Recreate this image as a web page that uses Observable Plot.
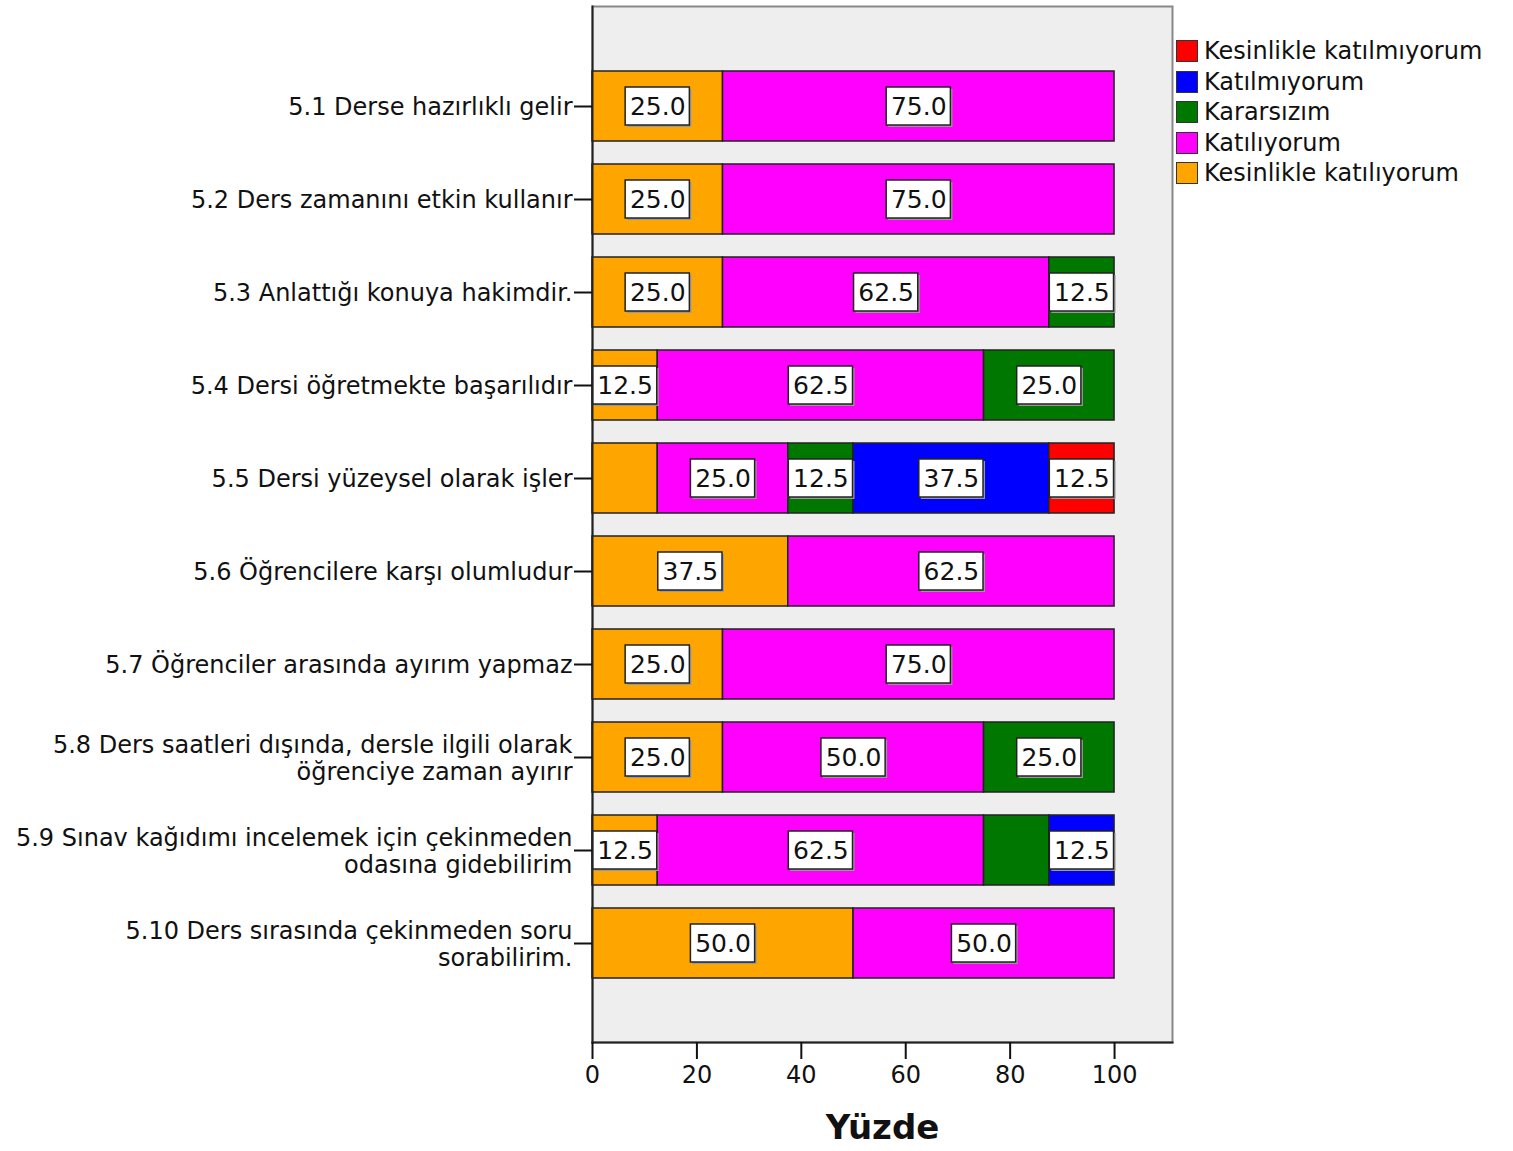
<!DOCTYPE html>
<html><head><meta charset="utf-8">
<script src="https://cdn.jsdelivr.net/npm/d3@7"></script>
<script src="https://cdn.jsdelivr.net/npm/@observablehq/plot@0.6"></script>
<style>
body{margin:0;background:#fff;font-family:"DejaVu Sans",sans-serif;}
#wrap{position:relative;width:1513px;height:1151px;}
#legend{position:absolute;left:1176px;top:36px;font-size:24px;color:#111;}
.item{display:flex;align-items:center;height:30.5px;white-space:nowrap;}
.sw{width:22px;height:22px;border:1.5px solid #333;margin-right:6px;box-sizing:border-box;}
</style></head>
<body><div id="wrap"><div id="chart"></div><div id="legend"></div></div>
<script>
const questions = [
  "5.1 Derse hazırlıklı gelir",
  "5.2 Ders zamanını etkin kullanır",
  "5.3 Anlattığı konuya hakimdir.",
  "5.4 Dersi öğretmekte başarılıdır",
  "5.5 Dersi yüzeysel olarak işler",
  "5.6 Öğrencilere karşı olumludur",
  "5.7 Öğrenciler arasında ayırım yapmaz",
  "5.8 Ders saatleri dışında, dersle ilgili olarak\nöğrenciye zaman ayırır",
  "5.9 Sınav kağıdımı incelemek için çekinmeden\nodasına gidebilirim",
  "5.10 Ders sırasında çekinmeden soru\nsorabilirim."
];
const categories = ["Kesinlikle katılmıyorum","Katılmıyorum","Kararsızım","Katılıyorum","Kesinlikle katılıyorum"];
const colors = ["#ff0000","#0000ff","#007800","#ff00ff","#ffa500"];
const kesinlikleKatilmiyorum = [0,0,0,0,12.5,0,0,0,0,0];
const katilmiyorum          = [0,0,0,0,37.5,0,0,0,12.5,0];
const kararsizim            = [0,0,12.5,25,12.5,0,0,25,12.5,0];
const katiliyorum           = [75,75,62.5,62.5,25,62.5,75,50,62.5,50];
const kesinlikleKatiliyorum = [25,25,25,12.5,12.5,37.5,25,25,12.5,50];
const xTicks = [0,20,40,60,80,100];
// segments whose value label is not shown in the original
const hiddenLabels = [["5.5","Kesinlikle katılıyorum"],["5.9","Kararsızım"]];

const series = [kesinlikleKatilmiyorum, katilmiyorum, kararsizim, katiliyorum, kesinlikleKatiliyorum];
const stackOrder = [4,3,2,1,0];
const rows = [];
questions.forEach((q, i) => {
  let acc = 0;
  for (const c of stackOrder) {
    const v = series[c][i];
    if (v > 0) {
      const hidden = hiddenLabels.some(([p, cat]) => q.startsWith(p + " ") && cat === categories[c]);
      rows.push({q, cat: categories[c], v, x1: acc, x2: acc + v, mid: acc + v / 2, hidden});
      acc += v;
    }
  }
});
const labels = rows.filter(d => !d.hidden);
const fmt = d3.format(".1f");
const half = 6.15;

const chart = Plot.plot({
  width: 1513, height: 1151,
  marginLeft: 592, marginRight: 341, marginTop: 6, marginBottom: 109,
  style: {fontFamily: "DejaVu Sans, sans-serif", fontSize: "24px", color: "#111", background: "white"},
  x: {domain: [0, 111.1]},
  y: {domain: questions, paddingInner: 0.25, paddingOuter: 0.67},
  color: {domain: categories, range: colors},
  marks: [
    Plot.frame({fill: "#eeeeee", stroke: "#888", strokeWidth: 2}),
    Plot.barX(rows, {x1: "x1", x2: "x2", y: "q", fill: "cat", stroke: "#222", strokeWidth: 1.5}),
    Plot.rect(labels, {x1: d => d.mid - half, x2: d => d.mid + half, y: "q", insetTop: 16, insetBottom: 16, fill: "#999", dx: 2, dy: 2}),
    Plot.rect(labels, {x1: d => d.mid - half, x2: d => d.mid + half, y: "q", insetTop: 16, insetBottom: 16, fill: "white", stroke: "#222", strokeWidth: 1.5}),
    Plot.text(labels, {x: "mid", y: "q", text: d => fmt(d.v), fontSize: 25, fill: "#111"}),
    Plot.frame({anchor: "left", stroke: "#222", strokeWidth: 2}),
    Plot.frame({anchor: "bottom", stroke: "#222", strokeWidth: 2}),
    Plot.axisX({ticks: xTicks, tickSize: 17, tickPadding: 6, fontSize: 24, label: null, strokeWidth: 2}),
    Plot.text(["Yüzde"], {frameAnchor: "bottom", dy: 96, text: d => d, fontSize: 34, fontWeight: "bold", fill: "#111"}),
    Plot.axisY({tickSize: 18, tickPadding: 2, fontSize: 24, lineHeight: 1.12, label: null, strokeWidth: 2})
  ]
});
document.getElementById("chart").appendChild(chart);

const legend = document.getElementById("legend");
categories.forEach((c, i) => {
  const it = document.createElement("div");
  it.className = "item";
  const sw = document.createElement("span");
  sw.className = "sw";
  sw.style.background = colors[i];
  const t = document.createElement("span");
  t.textContent = c;
  it.appendChild(sw); it.appendChild(t);
  legend.appendChild(it);
});
</script>
</body></html>
